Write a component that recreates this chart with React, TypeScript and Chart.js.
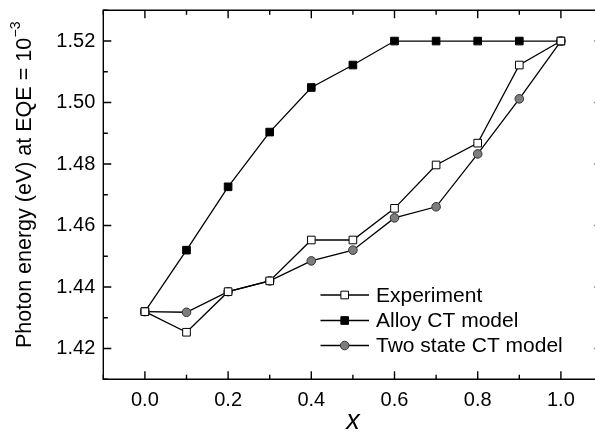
import React, { useEffect, useRef } from "react";
import { Chart, registerables } from "chart.js";

Chart.register(...registerables);

const xValues = [0, 0.1, 0.2, 0.3, 0.4, 0.5, 0.6, 0.7, 0.8, 0.9, 1.0];
const experiment = [1.432, 1.4253, 1.4385, 1.442, 1.4553, 1.4553, 1.4656, 1.4797, 1.4868, 1.5122, 1.52];
const alloyCT = [1.432, 1.452, 1.4726, 1.4904, 1.5049, 1.5122, 1.52, 1.52, 1.52, 1.52, 1.52];
const twoStateCT = [1.432, 1.4318, 1.4385, 1.442, 1.4485, 1.452, 1.4625, 1.4661, 1.4833, 1.5012, 1.52];
const seriesNames = ["Experiment", "Alloy CT model", "Two state CT model"];
const xMajorTicks = [0, 0.2, 0.4, 0.6, 0.8, 1.0];
const xMinorTicks = [-0.1, 0.1, 0.3, 0.5, 0.7, 0.9, 1.1];
const yMajorTicks = [1.42, 1.44, 1.46, 1.48, 1.5, 1.52];
const yMinorTicks = [1.41, 1.43, 1.45, 1.47, 1.49, 1.51, 1.53];
const yTitle = "Photon energy (eV) at EQE = 10";
const yTitleSup = "\u22123";
const xTitle = "x";

const FONT = '"Liberation Sans", Arial, Helvetica, sans-serif';

const framePlugin = {
  id: "framePlugin",
  afterDraw(chart: any) {
    const ctx = chart.ctx;
    const { left, right, top, bottom } = chart.chartArea;
    const xs = chart.scales.x;
    const ys = chart.scales.y;
    ctx.save();
    ctx.strokeStyle = "#000";
    ctx.lineWidth = 1.4;
    ctx.beginPath();
    ctx.moveTo(left, top);
    ctx.lineTo(left, bottom);
    ctx.lineTo(right, bottom);
    ctx.lineTo(right, top);
    ctx.closePath();
    ctx.stroke();
    const major = 8;
    const minor = 4.5;
    ctx.beginPath();
    xMajorTicks.forEach((v) => {
      const px = xs.getPixelForValue(v);
      ctx.moveTo(px, bottom);
      ctx.lineTo(px, bottom - major);
      ctx.moveTo(px, top);
      ctx.lineTo(px, top + major);
    });
    xMinorTicks.forEach((v) => {
      const px = xs.getPixelForValue(v);
      ctx.moveTo(px, bottom);
      ctx.lineTo(px, bottom - minor);
      ctx.moveTo(px, top);
      ctx.lineTo(px, top + minor);
    });
    yMajorTicks.forEach((v) => {
      const py = ys.getPixelForValue(v);
      ctx.moveTo(left, py);
      ctx.lineTo(left + major, py);
      ctx.moveTo(right, py);
      ctx.lineTo(right - major, py);
    });
    yMinorTicks.forEach((v) => {
      const py = ys.getPixelForValue(v);
      ctx.moveTo(left, py);
      ctx.lineTo(left + minor, py);
      ctx.moveTo(right, py);
      ctx.lineTo(right - minor, py);
    });
    ctx.stroke();

    // y title with superscript
    ctx.fillStyle = "#000";
    ctx.textBaseline = "middle";
    ctx.textAlign = "left";
    const mainFont = `21.5px ${FONT}`;
    const supFont = `14px ${FONT}`;
    ctx.font = mainFont;
    const w1 = ctx.measureText(yTitle).width;
    ctx.font = supFont;
    const w2 = ctx.measureText(yTitleSup).width;
    const total = w1 + w2;
    ctx.save();
    ctx.translate(25, 185);
    ctx.rotate(-Math.PI / 2);
    ctx.font = mainFont;
    ctx.fillText(yTitle, -total / 2, 0);
    ctx.font = supFont;
    ctx.fillText(yTitleSup, -total / 2 + w1 + 0.5, -8.5);
    ctx.restore();

    // x title
    ctx.font = `italic 27px ${FONT}`;
    ctx.textAlign = "center";
    ctx.textBaseline = "alphabetic";
    ctx.fillText(xTitle, (left + right) / 2, 429);

    // legend
    const rows = [295, 320.5, 345.5];
    const lx0 = 320.5;
    const lx1 = 369;
    const lm = 344.7;
    const tx = 376;
    chart.data.datasets.forEach((ds: any, i: number) => {
      const y = rows[i];
      ctx.strokeStyle = "#000";
      ctx.lineWidth = 1.3;
      ctx.beginPath();
      ctx.moveTo(lx0, y);
      ctx.lineTo(lx1, y);
      ctx.stroke();
      ctx.fillStyle = ds.pointBackgroundColor;
      ctx.strokeStyle = ds.pointBorderColor;
      ctx.lineWidth = 1;
      ctx.beginPath();
      if (ds.pointStyle === "rect") {
        const s = ds.pointRadius * Math.SQRT1_2;
        ctx.rect(lm - s, y - s, 2 * s, 2 * s);
      } else {
        ctx.arc(lm, y, ds.pointRadius, 0, Math.PI * 2);
      }
      ctx.fill();
      ctx.stroke();
      ctx.fillStyle = "#000";
      ctx.font = `21px ${FONT}`;
      ctx.textAlign = "left";
      ctx.textBaseline = "middle";
      ctx.fillText(ds.label, tx, y + 1);
    });
    ctx.restore();
  },
};

function toPoints(ys: number[]) {
  return xValues.map((x, i) => ({ x, y: ys[i] }));
}

export default function App() {
  const canvasRef = useRef<HTMLCanvasElement | null>(null);

  useEffect(() => {
    if (!canvasRef.current) return;
    const chart = new Chart(canvasRef.current, {
      type: "line",
      data: {
        datasets: [
          {
            label: seriesNames[0],
            data: toPoints(experiment),
            borderColor: "#000",
            borderWidth: 1.3,
            pointStyle: "rect",
            pointRadius: 5.4,
            pointBackgroundColor: "#fff",
            pointBorderColor: "#000",
            pointBorderWidth: 1,
            tension: 0,
          },
          {
            label: seriesNames[1],
            data: toPoints(alloyCT),
            borderColor: "#000",
            borderWidth: 1.3,
            pointStyle: "rect",
            pointRadius: 5.4,
            pointBackgroundColor: "#000",
            pointBorderColor: "#000",
            pointBorderWidth: 1,
            tension: 0,
          },
          {
            label: seriesNames[2],
            data: toPoints(twoStateCT),
            borderColor: "#000",
            borderWidth: 1.3,
            pointStyle: "circle",
            pointRadius: 4.3,
            pointBackgroundColor: "#7d7d7d",
            pointBorderColor: "#333",
            pointBorderWidth: 1,
            tension: 0,
          },
        ] as any,
      },
      options: {
        responsive: false,
        animation: false,
        events: [],
        layout: { padding: { left: 0, top: 10.3, right: 17.5, bottom: 0 } },
        plugins: { legend: { display: false }, tooltip: { enabled: false } },
        scales: {
          x: {
            type: "linear",
            min: -0.1,
            max: 1.1,
            grid: { display: false, drawTicks: false },
            border: { display: false },
            afterBuildTicks: (scale: any) => {
              scale.ticks = xMajorTicks.map((v) => ({ value: v }));
            },
            afterFit: (scale: any) => {
              scale.height = 52.7;
              scale.paddingLeft = 0;
              scale.paddingRight = 0;
              scale.paddingTop = 0;
              scale.paddingBottom = 0;
            },
            ticks: {
              padding: 9,
              color: "#000",
              font: { family: FONT, size: 20 },
              callback: (v: any) => Number(v).toFixed(1),
            },
          },
          y: {
            type: "linear",
            min: 1.41,
            max: 1.53,
            grid: { display: false, drawTicks: false },
            border: { display: false },
            afterBuildTicks: (scale: any) => {
              scale.ticks = yMajorTicks.map((v) => ({ value: v }));
            },
            afterFit: (scale: any) => {
              scale.width = 103.3;
              scale.paddingLeft = 0;
              scale.paddingRight = 0;
              scale.paddingTop = 0;
              scale.paddingBottom = 0;
            },
            ticks: {
              padding: 8,
              color: "#000",
              font: { family: FONT, size: 20 },
              callback: (v: any) => Number(v).toFixed(2),
            },
          },
        },
      },
      plugins: [framePlugin],
    });
    return () => chart.destroy();
  }, []);

  return (
    <div
      style={{
        position: "fixed",
        left: 0,
        top: 0,
        width: 595,
        height: 432,
        overflow: "hidden",
        background: "#fff",
      }}
    >
      <canvas
        ref={canvasRef}
        width={620}
        height={432}
        style={{ width: 620, height: 432, display: "block" }}
      />
    </div>
  );
}
